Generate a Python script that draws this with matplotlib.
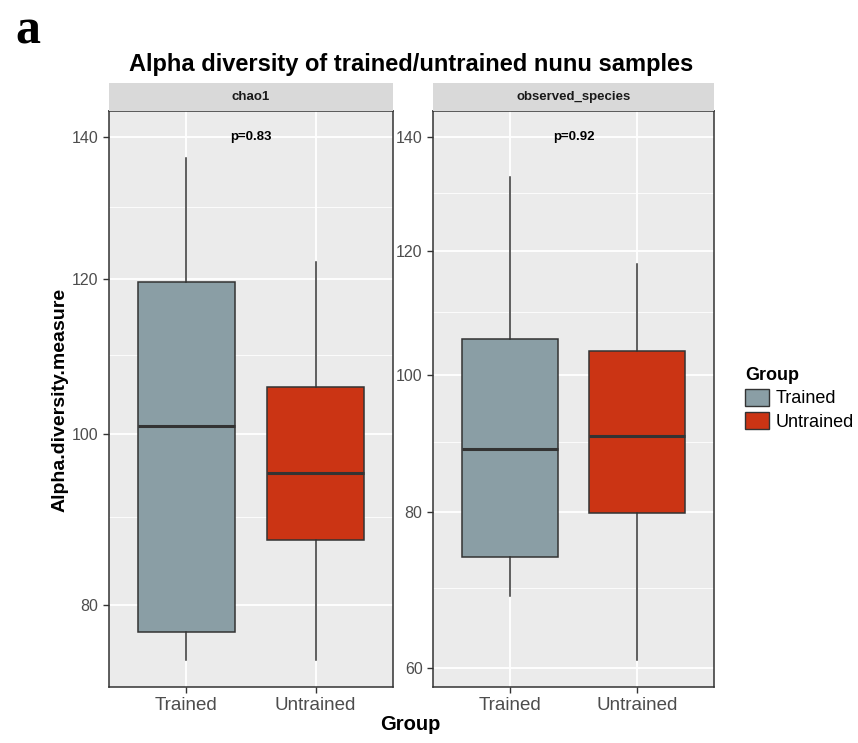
import numpy as np
import matplotlib
matplotlib.use('Agg')
import matplotlib.pyplot as plt
from matplotlib.patches import Patch

plt.rcParams['font.family'] = ['Liberation Sans', 'DejaVu Sans']

groups = ['Trained', 'Untrained']
colors = ['#8A9EA5', '#CB3414']

# five-number summaries (y axis is sqrt scaled)
chao1_whislo = [74.0, 74.0]
chao1_q1 = [77.0, 87.3]
chao1_med = [101.0, 95.2]
chao1_q3 = [119.7, 105.9]
chao1_whishi = [137.0, 122.4]

obs_whislo = [68.9, 61.0]
obs_q1 = [74.0, 79.9]
obs_med = [88.9, 90.8]
obs_q3 = [105.6, 103.7]
obs_whishi = [132.8, 117.8]

panels = ['chao1', 'observed_species']
pvals = ['p=0.83', 'p=0.92']
major_ticks = [[80, 100, 120, 140], [60, 80, 100, 120, 140]]
minor_ticks = [[90, 110, 130], [70, 90, 110, 130]]
ylims = [(71.15, 143.9), (57.8, 144.7)]

W, H = 858, 743
fig = plt.figure(figsize=(W / 100, H / 100), dpi=100)


def fwd(y):
    return np.sqrt(np.maximum(y, 0))


def inv(y):
    return y ** 2


stats_all = [
    (chao1_whislo, chao1_q1, chao1_med, chao1_q3, chao1_whishi),
    (obs_whislo, obs_q1, obs_med, obs_q3, obs_whishi),
]
lefts = [109, 433]
widths = [284, 281]
top, bottom = 111, 687

for i in range(2):
    ax = fig.add_axes([lefts[i] / W, (H - bottom) / H, widths[i] / W, (bottom - top) / H])
    ax.set_facecolor('#EBEBEB')
    ax.set_yscale('function', functions=(fwd, inv))
    lo, q1, med, q3, hi = stats_all[i]
    stats = []
    for j in range(2):
        stats.append({'whislo': lo[j], 'q1': q1[j], 'med': med[j], 'q3': q3[j], 'whishi': hi[j],
                      'fliers': [], 'label': groups[j]})
    bp = ax.bxp(stats, positions=[1, 2], widths=0.75, patch_artist=True, showcaps=False,
                showfliers=False,
                boxprops=dict(edgecolor='#333333', linewidth=1.1),
                whiskerprops=dict(color='#333333', linewidth=1.1),
                medianprops=dict(color='#333333', linewidth=2.2), zorder=3)
    for patch, c in zip(bp['boxes'], colors):
        patch.set_facecolor(c)
    ax.set_xlim(0.4, 2.6)
    ax.set_ylim(*ylims[i])
    ax.set_yticks(major_ticks[i])
    ax.set_yticks(minor_ticks[i], minor=True)
    ax.set_yticklabels([str(t) for t in major_ticks[i]])
    ax.set_xticks([1, 2])
    ax.set_xticklabels(groups)
    ax.grid(True, which='major', color='white', linewidth=1.3, zorder=0)
    ax.grid(True, which='minor', axis='y', color='white', linewidth=0.6, zorder=0)
    ax.set_axisbelow(True)
    ax.tick_params(axis='both', which='major', length=4, color='#333333', labelcolor='#4D4D4D',
                   width=1)
    ax.tick_params(axis='x', labelsize=13.5)
    ax.tick_params(axis='y', labelsize=11.5)
    ax.tick_params(axis='y', which='minor', length=0)
    for s in ax.spines.values():
        s.set_color('#333333')
        s.set_linewidth(1.1)
    ax.text(1.5, 140, pvals[i], ha='center', va='center', fontsize=9.5, fontweight='bold')

    sax = fig.add_axes([lefts[i] / W, (H - top) / H, widths[i] / W, 28 / H])
    sax.set_facecolor('#D9D9D9')
    sax.set_xticks([])
    sax.set_yticks([])
    for s in sax.spines.values():
        s.set_visible(False)
    sax.text(0.5, 0.5, panels[i], ha='center', va='center', fontsize=9.5, fontweight='bold',
             color='#1A1A1A', transform=sax.transAxes)

fig.text(411 / W, 1 - 65 / H, 'Alpha diversity of trained/untrained nunu samples', ha='center',
         va='center', fontsize=17, fontweight='bold')
fig.text(28 / W, 1 - 32 / H, 'a', ha='center', va='center', fontsize=36, fontweight='bold',
         family=['Liberation Serif', 'DejaVu Serif'])
fig.text(60 / W, 1 - 400 / H, 'Alpha.diversity.measure', ha='center', va='center', rotation=90,
         fontsize=14, fontweight='bold')
fig.text(410 / W, 1 - 725 / H, 'Group', ha='center', va='center', fontsize=14.5, fontweight='bold')

handles = [Patch(facecolor=c, edgecolor='#333333', label=g) for c, g in zip(colors, groups)]
leg = fig.legend(handles=handles, title='Group', loc='upper left', bbox_to_anchor=(736 / W, 1 - 358 / H),
                 frameon=False, fontsize=13, handlelength=1.3, handleheight=1.1, borderpad=0,
                 handletextpad=0.4, labelspacing=0.25, alignment='left')
leg.get_title().set_fontweight('bold')
leg.get_title().set_fontsize(13)

fig.savefig('out.png', dpi=100)
